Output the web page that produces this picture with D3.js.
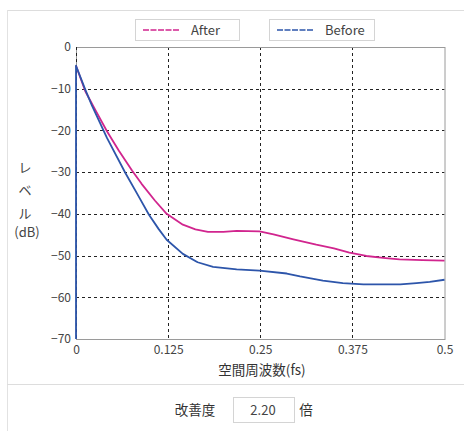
<!DOCTYPE html>
<html><head><meta charset="utf-8">
<script src="https://cdn.jsdelivr.net/npm/d3@7"></script>
<style>
html,body{margin:0;padding:0;background:#fff;}
svg{display:block;font-family:"Noto Sans CJK JP","Noto Sans",sans-serif;}
</style></head><body>
<script>
const seriesNames = ["After", "Before"];
const seriesColors = ["#d1258e", "#2d55aa"];
const afterFreq = [0, 0.0126, 0.026, 0.042, 0.058, 0.076, 0.089, 0.107, 0.123, 0.145, 0.162, 0.179, 0.2, 0.218, 0.249, 0.268, 0.295, 0.326, 0.35, 0.371, 0.394, 0.42, 0.439, 0.47, 0.5];
const afterLevel = [-4.5, -10.6, -15, -20.2, -24.8, -29.6, -32.8, -36.8, -40, -42.6, -43.7, -44.3, -44.3, -44.1, -44.2, -44.9, -46.1, -47.4, -48.3, -49.3, -50.1, -50.6, -50.9, -51.1, -51.2];
const beforeFreq = [0, 0, 0.0126, 0.022, 0.042, 0.067, 0.085, 0.099, 0.112, 0.123, 0.145, 0.165, 0.186, 0.218, 0.249, 0.286, 0.304, 0.335, 0.362, 0.39, 0.417, 0.44, 0.462, 0.48, 0.5];
const beforeLevel = [-70, -4.5, -10.2, -14.2, -21.8, -30.2, -35.8, -40.2, -43.6, -46.2, -49.6, -51.6, -52.7, -53.3, -53.6, -54.3, -55, -56, -56.6, -56.9, -56.9, -56.9, -56.6, -56.3, -55.8];
const xTicks = [0, 0.125, 0.25, 0.375, 0.5];
const xTickLabels = ["0", "0.125", "0.25", "0.375", "0.5"];
const yTicks = [0, -10, -20, -30, -40, -50, -60, -70];
const yLabelChars = ["レ", "ベ", "ル", "(dB)"];
const xTitle = "空間周波数(fs)";
const improveLabel = "改善度";
const improveValue = "2.20";
const improveUnit = "倍";

const W = 464, H = 431;
const svg = d3.select("body").append("svg").attr("width", W).attr("height", H);

// panels
svg.append("line").attr("x1", 7).attr("x2", W).attr("y1", 10.5).attr("y2", 10.5).attr("stroke", "#ddd");
svg.append("line").attr("x1", 7.5).attr("x2", 7.5).attr("y1", 10).attr("y2", H).attr("stroke", "#e2e2e2");
svg.append("line").attr("x1", 7).attr("x2", W).attr("y1", 384.5).attr("y2", 384.5).attr("stroke", "#ddd");

const x = d3.scaleLinear().domain([0, 0.5]).range([76, 444.5]);
const y = d3.scaleLinear().domain([0, -70]).range([47, 339]);

const g = svg.append("g");
// grid
g.selectAll(".vg").data(xTicks.slice(0, 4)).join("line")
  .attr("x1", d => Math.round(x(d)) + 0.5).attr("x2", d => Math.round(x(d)) + 0.5)
  .attr("y1", y(0)).attr("y2", y(-70))
  .attr("stroke", "#222").attr("stroke-dasharray", "3,3");
g.selectAll(".hg").data(yTicks.slice(1, 7)).join("line")
  .attr("x1", x(0)).attr("x2", x(0.5))
  .attr("y1", d => Math.round(y(d)) + 0.5).attr("y2", d => Math.round(y(d)) + 0.5)
  .attr("stroke", "#222").attr("stroke-dasharray", "3,3");
// border
g.append("rect").attr("x", x(0) + 0.5).attr("y", y(0) + 0.5)
  .attr("width", x(0.5) - x(0)).attr("height", y(-70) - y(0))
  .attr("fill", "none").attr("stroke", "#9a9a9a");
g.append("line").attr("x1", Math.round(x(0)) + 0.5).attr("x2", Math.round(x(0)) + 0.5)
  .attr("y1", y(0)).attr("y2", y(-70)).attr("stroke", "#222").attr("stroke-dasharray", "3,3");

// axes
const xAxis = d3.axisBottom(x).tickValues(xTicks).tickSize(0).tickPadding(6)
  .tickFormat((d, i) => xTickLabels[i]);
const xa = svg.append("g").attr("transform", `translate(0,${y(-70)})`).call(xAxis);
xa.select(".domain").remove();
xa.selectAll("text").attr("font-size", 12).attr("fill", "#444")
  .attr("font-family", "'Noto Sans CJK JP',sans-serif");

const yAxis = d3.axisLeft(y).tickValues(yTicks).tickSize(0).tickPadding(5)
  .tickFormat(d3.format("d"));
const ya = svg.append("g").attr("transform", `translate(${x(0)},0)`).call(yAxis);
ya.select(".domain").remove();
ya.selectAll("text").attr("font-size", 12).attr("fill", "#444")
  .attr("font-family", "'Noto Sans CJK JP',sans-serif");

// lines
const line = d3.line().x(d => x(d[0])).y(d => y(d[1]));
const afterData = afterFreq.map((f, i) => [f, afterLevel[i]]);
const beforeData = beforeFreq.map((f, i) => [f, beforeLevel[i]]);
svg.append("path").datum(afterData).attr("d", line).attr("fill", "none")
  .attr("stroke", seriesColors[0]).attr("stroke-width", 1.8).attr("stroke-linejoin", "round");
svg.append("path").datum(beforeData).attr("d", line).attr("fill", "none")
  .attr("stroke", seriesColors[1]).attr("stroke-width", 1.8).attr("stroke-linejoin", "round");

// legend
const legendBoxes = [{x: 135, w: 104}, {x: 269, w: 105}];
seriesNames.forEach((name, i) => {
  const b = legendBoxes[i];
  const lg = svg.append("g");
  lg.append("rect").attr("x", b.x + 0.5).attr("y", 19.5).attr("width", b.w).attr("height", 21)
    .attr("fill", "#fff").attr("stroke", "#d4d4d4");
  lg.append("line").attr("x1", b.x + 8).attr("x2", b.x + 44).attr("y1", 30).attr("y2", 30)
    .style("stroke", seriesColors[i]).attr("stroke-width", 1.3).attr("stroke-dasharray", "6,1.5");
  lg.append("text").attr("x", b.x + 56).attr("y", 30).attr("dy", "0.35em")
    .attr("font-size", 13).attr("fill", "#444").text(name);
});

// y label
yLabelChars.forEach((c, i) => {
  svg.append("text").attr("x", i < 3 ? 25 : 27).attr("y", [167, 190, 213, 232][i])
    .attr("text-anchor", "middle").attr("dy", "0.35em")
    .attr("font-size", 13).attr("fill", "#444").text(c);
});

// x title
svg.append("text").attr("x", 262).attr("y", 370).attr("text-anchor", "middle").attr("dy", "0.35em")
  .attr("font-size", 13.5).attr("fill", "#333").text(xTitle);

// improvement row
svg.append("text").attr("x", 195).attr("y", 410).attr("text-anchor", "middle").attr("dy", "0.35em")
  .attr("font-size", 13.5).attr("fill", "#333").text(improveLabel);
svg.append("rect").attr("x", 233.5).attr("y", 397.5).attr("width", 61).attr("height", 25)
  .attr("fill", "#fff").attr("stroke", "#d4d4d4");
svg.append("text").attr("x", 263).attr("y", 410).attr("text-anchor", "middle").attr("dy", "0.35em")
  .attr("font-size", 13).attr("fill", "#444").text(improveValue);
svg.append("text").attr("x", 306).attr("y", 410).attr("text-anchor", "middle").attr("dy", "0.35em")
  .attr("font-size", 13.5).attr("fill", "#333").text(improveUnit);
</script>
</body></html>
